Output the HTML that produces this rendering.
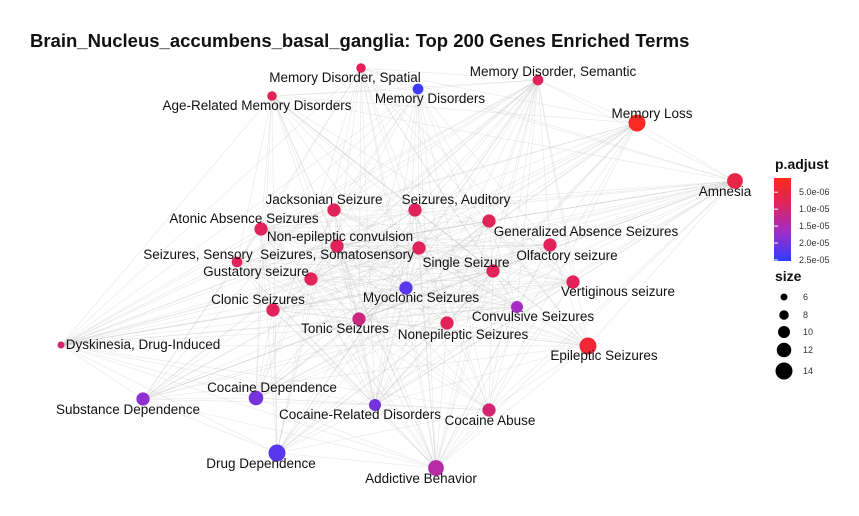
<!DOCTYPE html>
<html><head><meta charset="utf-8"><style>
html,body{margin:0;padding:0;background:#fff;}
svg{display:block;font-family:"Liberation Sans",Arial,sans-serif;}
</style></head><body>
<svg id="chart" width="859" height="516" viewBox="0 0 859 516">
<defs><linearGradient id="cbar" x1="0" y1="0" x2="0" y2="1">
<stop offset="0" stop-color="#ff2a1a"/><stop offset="0.3" stop-color="#e0235a"/><stop offset="0.65" stop-color="#a02ec8"/><stop offset="1" stop-color="#2d3cff"/></linearGradient></defs>
<text x="30" y="47" font-size="18.5" font-weight="bold" fill="#111">Brain_Nucleus_accumbens_basal_ganglia: Top 200 Genes Enriched Terms</text>
<g id="edges"></g>
<g id="nodes"></g>
<g id="labels"></g>
<g>
<text x="775" y="169" font-size="14" font-weight="bold" fill="#111">p.adjust</text>
<rect x="774" y="178" width="17" height="83" fill="url(#cbar)"/>
<g id="cticks"></g>
<text x="775" y="281" font-size="14" font-weight="bold" fill="#111">size</text>
<g id="sizeleg"></g>
</g>
</svg>
<script>
const labels=["Memory Disorder, Spatial","Memory Disorders","Memory Disorder, Semantic","Age-Related Memory Disorders","Memory Loss","Amnesia","Jacksonian Seizure","Seizures, Auditory","Atonic Absence Seizures","Generalized Absence Seizures","Non-epileptic convulsion","Seizures, Somatosensory","Olfactory seizure","Seizures, Sensory","Single Seizure","Gustatory seizure","Vertiginous seizure","Myoclonic Seizures","Clonic Seizures","Convulsive Seizures","Tonic Seizures","Nonepileptic Seizures","Epileptic Seizures","Dyskinesia, Drug-Induced","Substance Dependence","Cocaine Dependence","Cocaine-Related Disorders","Cocaine Abuse","Drug Dependence","Addictive Behavior"];
const nodeX=[361,418,538,272,637,735,334,415,261,489,337,419,550,237,493,311,573,406,273,517,359,447,588,61,143,256,375,489,277,436];
const nodeY=[68,89,80,96,123,181,210,210,229,221,246,248,245,262,271,279,282,288,310,307,319,323,346,345,399,398,405,410,453,468];
const sizes=[8,9,9,8,14,13,11,11,11,11,11,11,11,9,11,11,11,11,11,10,11,11,14,6,11,12,10,11,14,13];
const pvals=[8e-6,2.4e-5,8e-6,8e-6,2e-6,6e-6,8e-6,8e-6,8e-6,8e-6,8e-6,8e-6,8e-6,8e-6,8e-6,8e-6,8e-6,2.2e-5,8e-6,1.6e-5,1.1e-5,8e-6,4e-6,1.0e-5,1.8e-5,2.0e-5,2.0e-5,1.0e-5,2.2e-5,1.4e-5];
const labX=[345,430,553,257,652,725,324,456,244,586,340,337,567,198,466,256,618,421,258,533,345,463,604,143,128,272,360,490,261,421];
const labY=[82,103,76,110,118,196,204,204,223,236,241,259,260,259,267,276,296,302,304,321,333,339,360,349,414,392,419,425,468,483];
const sizeTicks=[6,8,10,12,14];
const colorTicks=[5e-6,1e-5,1.5e-5,2e-5,2.5e-5];
const colorTickLabels=["5.0e-06","1.0e-05","1.5e-05","2.0e-05","2.5e-05"];

const pMin=0.8e-6,pMax=2.53e-5;
const rScale=s=>3.5+(s-6)*0.625;
const yBar=p=>178+(p-pMin)/(pMax-pMin)*83;
const stops=[[0,[255,42,26]],[0.3,[224,35,90]],[0.65,[160,46,200]],[1,[45,60,255]]];
function col(p){let t=Math.max(0,Math.min(1,(p-pMin)/(pMax-pMin)));
for(let i=0;i<stops.length-1;i++){const a=stops[i],b=stops[i+1];if(t<=b[0]){const f=(t-a[0])/(b[0]-a[0]);const c=a[1].map((v,k)=>Math.round(v+(b[1][k]-v)*f));return `rgb(${c})`;}}return "rgb(45,60,255)";}
const NS="http://www.w3.org/2000/svg";
const E=document.getElementById('edges'),N=document.getElementById('nodes'),L=document.getElementById('labels');
const n=labels.length;
for(let i=0;i<n;i++)for(let j=i+1;j<n;j++){
 if((i*7+j*13+i*j)%3===0)continue;
 const l=document.createElementNS(NS,'line');
 l.setAttribute('x1',nodeX[i]);l.setAttribute('y1',nodeY[i]);l.setAttribute('x2',nodeX[j]);l.setAttribute('y2',nodeY[j]);
 l.setAttribute('stroke','#bbb');l.setAttribute('stroke-opacity','0.35');l.setAttribute('stroke-width','0.6');
 
 
 E.appendChild(l);}
for(let i=0;i<n;i++){
 const c=document.createElementNS(NS,'circle');
 c.setAttribute('cx',nodeX[i]);c.setAttribute('cy',nodeY[i]);c.setAttribute('r',rScale(sizes[i]));c.setAttribute('fill',col(pvals[i]));
 
 
 N.appendChild(c);
 const t=document.createElementNS(NS,'text');
 t.setAttribute('x',labX[i]);t.setAttribute('y',labY[i]);t.setAttribute('font-size','13.5');t.setAttribute('fill','#111');t.setAttribute('text-anchor','middle');
 t.textContent=labels[i];
 
 
 L.appendChild(t);}
const CT=document.getElementById('cticks');
colorTicks.forEach((p,i)=>{const y=yBar(p);
 const a=document.createElementNS(NS,'line');a.setAttribute('x1',774);a.setAttribute('x2',778);a.setAttribute('y1',y);a.setAttribute('y2',y);a.setAttribute('stroke','#fff');
 
 
 CT.appendChild(a);
 const t=document.createElementNS(NS,'text');t.setAttribute('x',799);t.setAttribute('y',y+3);t.setAttribute('font-size','9');t.setAttribute('fill','#333');t.textContent=colorTickLabels[i];
 
 
 CT.appendChild(t);});
const SL=document.getElementById('sizeleg');
const sy=[297,315,332,350,371];
sizeTicks.forEach((s,i)=>{
 const c=document.createElementNS(NS,'circle');c.setAttribute('cx',784);c.setAttribute('cy',sy[i]);c.setAttribute('r',rScale(s));c.setAttribute('fill','#000');
 
 
 SL.appendChild(c);
 const t=document.createElementNS(NS,'text');t.setAttribute('x',803);t.setAttribute('y',sy[i]+3);t.setAttribute('font-size','9');t.setAttribute('fill','#333');t.textContent=s;
 
 
 SL.appendChild(t);});
</script>
</body></html>
